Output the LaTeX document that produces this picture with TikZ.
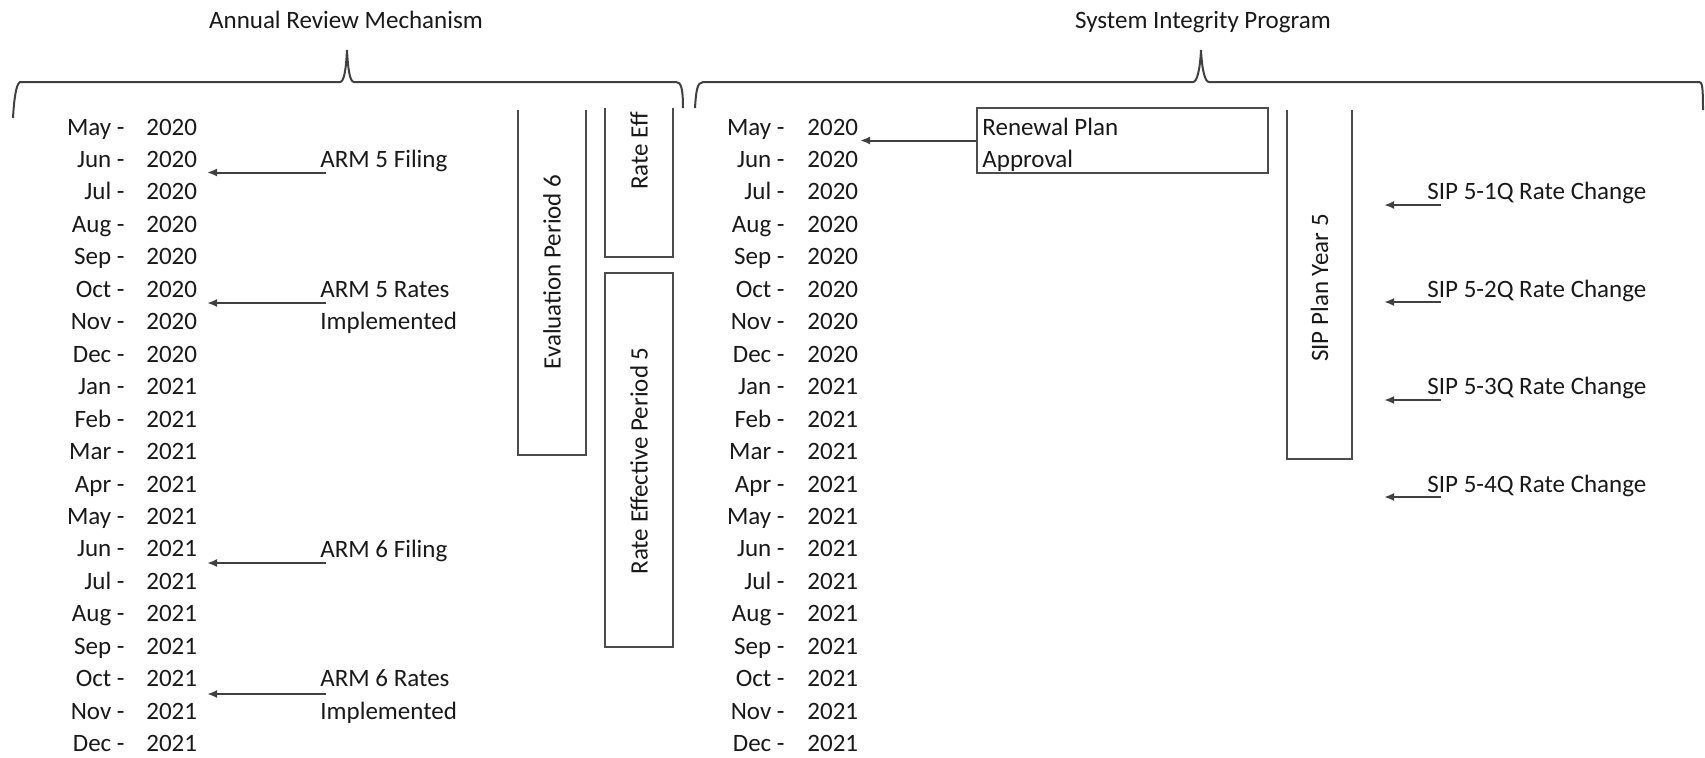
\documentclass[tikz,border=0pt]{standalone}
\usepackage{fontspec}
\setmainfont{Carlito}
\usetikzlibrary{arrows.meta}
\begin{document}
\begin{tikzpicture}[x=0.5pt,y=-0.5pt,
  txt/.style={font=\fontsize{12.5}{15}\selectfont, text=black!90, inner sep=0pt},
  arr/.style={-{Latex[length=5pt,width=4pt]}, line width=1pt, draw=black!75},
  box/.style={line width=1.25pt, draw=black!70},
  brace/.style={line width=1pt, draw=black!75}
]
\useasboundingbox (0,0) rectangle (1705,757);

% titles
\node[txt, anchor=base] (armt) at (346,28) {Annual Review Mechanism};
\node[txt, anchor=base] (sipt) at (1203,28) {System Integrity Program};

% braces
\draw[brace] (13,118) .. controls (14,100) and (16,84) .. (20,82) -- (340,82)
  .. controls (344,82) and (346,70) .. (347,50)
  .. controls (348,70) and (350,82) .. (354,82) -- (676,82)
  .. controls (681,82) and (683,88) .. (683,108);
\draw[brace] (695,108) .. controls (696,92) and (697,82) .. (703,82) -- (1193,82)
  .. controls (1197,82) and (1200,70) .. (1201,50)
  .. controls (1202,70) and (1205,82) .. (1209,82) -- (1699,82)
  .. controls (1702,82) and (1703,85) .. (1703,110);

% month rows
\foreach \m/\yr [count=\i from 0] in {May/2020,Jun/2020,Jul/2020,Aug/2020,Sep/2020,Oct/2020,Nov/2020,Dec/2020,Jan/2021,Feb/2021,Mar/2021,Apr/2021,May/2021,Jun/2021,Jul/2021,Aug/2021,Sep/2021,Oct/2021,Nov/2021,Dec/2021}{
  \node[txt, anchor=base east] (lm\i) at (125,{135+32.46*\i}) {\m\ -};
  \node[txt, anchor=base west] (ly\i) at (146,{135+32.46*\i}) {\yr};
  \node[txt, anchor=base east] (rm\i) at (785,{135+32.46*\i}) {\m\ -};
  \node[txt, anchor=base west] (ry\i) at (807,{135+32.46*\i}) {\yr};
}

% ARM labels
\node[txt, anchor=base west] (arm5f) at (320,167.5) {ARM 5 Filing};
\node[txt, anchor=base west] (arm5r) at (320,297.3) {ARM 5 Rates};
\node[txt, anchor=base west] (arm5i) at (320,329.8) {Implemented};
\node[txt, anchor=base west] (arm6f) at (320,557) {ARM 6 Filing};
\node[txt, anchor=base west] (arm6r) at (320,686.8) {ARM 6 Rates};
\node[txt, anchor=base west] (arm6i) at (320,719.3) {Implemented};

\coordinate (a1s) at (326,172.5); \coordinate (a1e) at (207,172.5);
\coordinate (a2s) at (326,303);   \coordinate (a2e) at (207,303);
\coordinate (a3s) at (326,563);   \coordinate (a3e) at (207,563);
\coordinate (a4s) at (326,694);   \coordinate (a4e) at (207,694);
\draw[arr] (a1s) -- (a1e);
\draw[arr] (a2s) -- (a2e);
\draw[arr] (a3s) -- (a3e);
\draw[arr] (a4s) -- (a4e);

% ARM period boxes
\draw[box] (518,110) -- (518,455) -- (586,455) -- (586,110);
\node[txt, rotate=90] (ev6) at (552,272) {Evaluation Period 6};
\draw[box] (605,108) -- (605,257) -- (673,257) -- (673,108);
\node[txt, rotate=90] (ref) at (639,151) {Rate Eff};
\draw[box] (605,273) rectangle (673,647);
\node[txt, rotate=90] (re5) at (639,461) {Rate Effective Period 5};

% Renewal plan box
\node[box, draw, minimum width=145.5pt, minimum height=32.5pt, inner sep=0pt] (ren) at (1122.5,140.5) {};
\node[txt, anchor=base west] (ren1) at (982,135) {Renewal Plan};
\node[txt, anchor=base west] (ren2) at (982,167.5) {Approval};
\coordinate (renE) at (860,140.5);
\draw[arr] (ren.west) -- (renE);

% SIP plan year box
\draw[box] (1287,110) -- (1287,459) -- (1352,459) -- (1352,110);
\node[txt, rotate=90] (sipy) at (1319.5,288) {SIP Plan Year 5};

% SIP rate changes
\node[txt, anchor=base west] (s1) at (1427,199.9) {SIP 5-1Q Rate Change};
\node[txt, anchor=base west] (s2) at (1427,297.3) {SIP 5-2Q Rate Change};
\node[txt, anchor=base west] (s3) at (1427,394.7) {SIP 5-3Q Rate Change};
\node[txt, anchor=base west] (s4) at (1427,492) {SIP 5-4Q Rate Change};
\coordinate (b1s) at (1441,205); \coordinate (b1e) at (1384,205);
\coordinate (b2s) at (1441,302); \coordinate (b2e) at (1384,302);
\coordinate (b3s) at (1441,400); \coordinate (b3e) at (1384,400);
\coordinate (b4s) at (1441,497); \coordinate (b4e) at (1384,497);
\draw[arr] (b1s) -- (b1e);
\draw[arr] (b2s) -- (b2e);
\draw[arr] (b3s) -- (b3e);
\draw[arr] (b4s) -- (b4e);
\end{tikzpicture}
\end{document}
